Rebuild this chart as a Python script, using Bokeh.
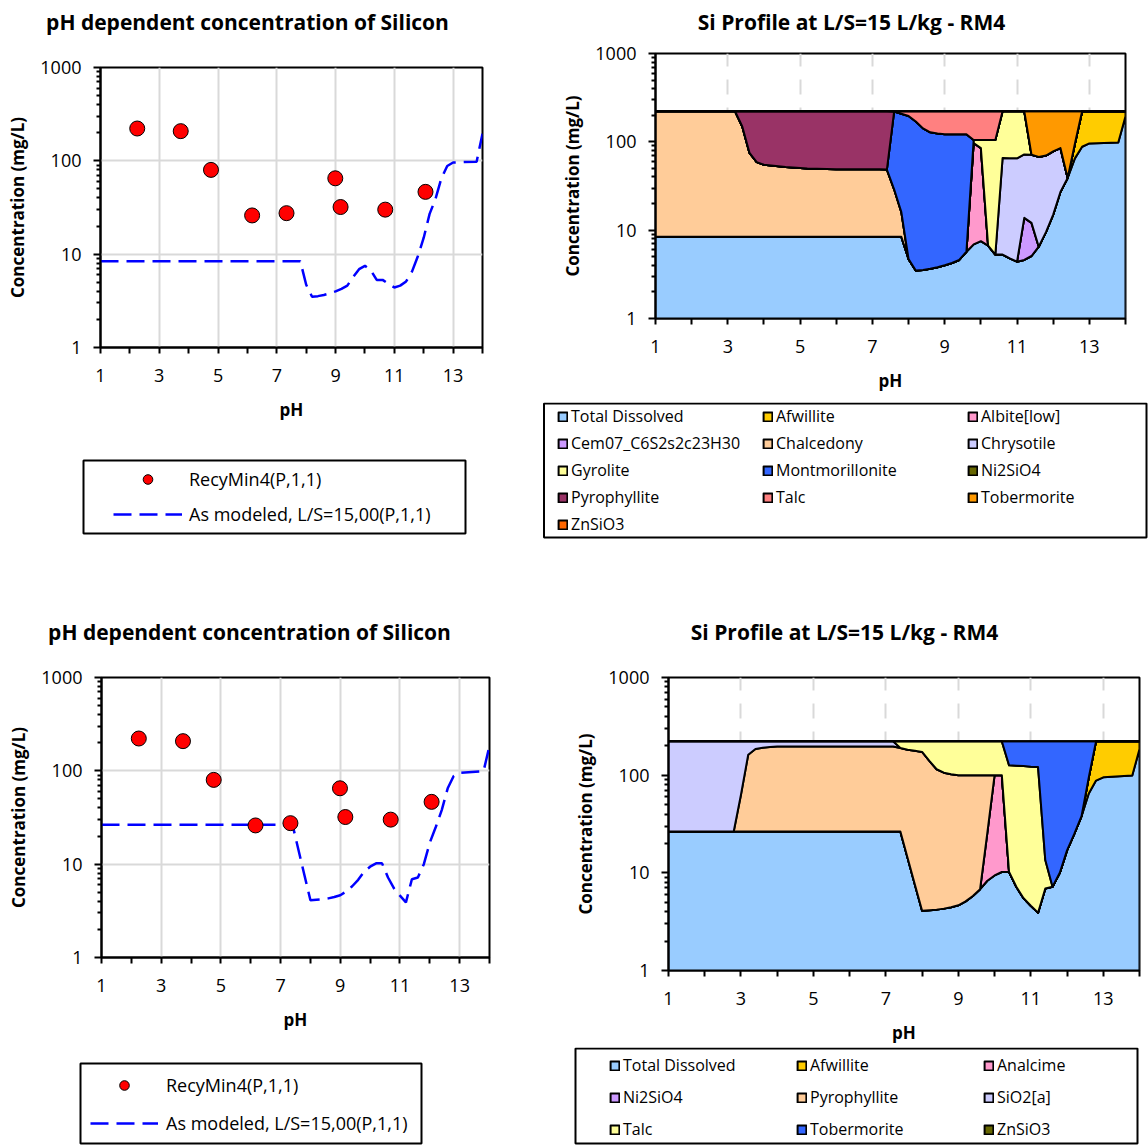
import numpy as np
from bokeh.plotting import figure
from bokeh.layouts import column, row
from bokeh.models import (Range1d, FixedTicker, PrintfTickFormatter, Legend,
                          LegendItem, BoxAnnotation, Label)
from bokeh.embed import file_html
from bokeh.resources import INLINE

FONT = "Open Sans"

# ---------------- data ----------------
ph_measured = [2.25, 3.73, 4.76, 6.16, 7.33, 8.99, 9.17, 10.69, 12.06]
si_measured = [222, 208, 80, 26, 27.5, 65, 32, 30, 46.5]

ph_model = [1.0, 2.8, 3.0, 3.2, 3.4, 3.6, 3.8, 4.0, 4.6, 5.2, 6.0, 7.2, 7.4, 7.6,
            7.8, 8.0, 8.2, 8.4, 8.6, 8.8, 9.0, 9.2, 9.4, 9.6, 9.8, 10.0, 10.2,
            10.4, 10.6, 10.8, 11.0, 11.2, 11.4, 11.6, 11.8, 12.0, 12.2, 12.4,
            12.6, 12.8, 13.0, 13.8, 14.0]

td_1 = [8.4, 8.4, 8.4, 8.4, 8.4, 8.4, 8.4, 8.4, 8.4, 8.4, 8.4, 8.4, 8.4, 8.4, 8.4,
        4.7, 3.5, 3.55, 3.65, 3.8, 4.0, 4.25, 4.6, 5.7, 6.9, 7.5, 6.7, 5.3, 5.3, 4.8,
        4.4, 4.6, 5.1, 6.5, 9.5, 15, 27, 39, 65, 88, 96, 98, 195]
afwillite_1 = [0, 0, 0, 0, 0, 0, 0, 0, 0, 0, 0, 0, 0, 0, 0, 0, 0, 0, 0, 0, 0, 0,
               0, 0, 0, 0, 0, 0, 0, 0, 0, 0, 0, 0, 0, 0, 0, 0, 30, 134, 126, 124, 27]
albite_1 = [0, 0, 0, 0, 0, 0, 0, 0, 0, 0, 0, 0, 0, 0, 0, 0, 0, 0, 0, 0, 0, 0,
            0, 0, 90, 77.5, 0, 0, 0, 0, 0, 0, 0, 0, 0, 0, 0, 0, 0, 0, 0, 0, 0]
cem07_1 = [0, 0, 0, 0, 0, 0, 0, 0, 0, 0, 0, 0, 0, 0, 0, 0, 0, 0, 0, 0, 0, 0,
           0, 0, 0, 0, 0, 0, 0, 0, 0, 9.2, 7, 0, 0, 0, 0, 0, 0, 0, 0, 0, 0]
chalcedony_1 = [213.6, 213.6, 213.6, 213.6, 140.6, 66.6, 50.6, 46.6, 43.6, 41.6,
                40.6, 40.6, 40.1, 20.6, 7.6, 0, 0, 0, 0, 0, 0, 0, 0, 0, 0, 0, 0,
                0, 0, 0, 0, 0, 0, 0, 0, 0, 0, 0, 0, 0, 0, 0, 0]
chrysotile_1 = [0, 0, 0, 0, 0, 0, 0, 0, 0, 0, 0, 0, 0, 0, 0, 0, 0, 0, 0, 0, 0, 0,
                0, 0, 0, 0, 0, 0, 60.2, 60.2, 60.6, 58.2, 59.4, 61, 60.5, 63, 58,
                0, 0, 0, 0, 0, 0]
gyrolite_1 = [0, 0, 0, 0, 0, 0, 0, 0, 0, 0, 0, 0, 0, 0, 0, 0, 0, 0, 0, 0, 0, 0,
              0, 0, 8, 20, 98.3, 99.7, 156.5, 157, 157, 150, 0, 0, 0, 0, 0, 0, 0,
              0, 0, 0, 0]
montmorillonite_1 = [0, 0, 0, 0, 0, 0, 0, 0, 0, 0, 0, 0, 0, 191, 192, 191.3, 166.5,
                     138.5, 124.4, 120.2, 118, 117.8, 117.4, 116.3, 0, 0, 0, 0, 0,
                     0, 0, 0, 0, 0, 0, 0, 0, 0, 0, 0, 0, 0, 0]
ni2sio4_1 = [0, 0, 0, 0, 0, 0, 0, 0, 0, 0, 0, 0, 0, 0, 0, 0, 0, 0, 0, 0, 0, 0,
             0, 0, 0, 0, 0, 0, 0, 0, 0, 0, 0, 0, 0, 0, 0, 0, 0, 0, 0, 0, 0]
pyrophyllite_1 = [0, 0, 0, 0, 73, 147, 163, 167, 170, 172, 173, 173, 173.5, 0, 0,
                  0, 0, 0, 0, 0, 0, 0, 0, 0, 0, 0, 0, 0, 0, 0, 0, 0, 0, 0, 0, 0,
                  0, 0, 0, 0, 0, 0, 0]
talc_1 = [0, 0, 0, 0, 0, 0, 0, 0, 0, 0, 0, 0, 0, 2, 14, 26, 52, 80, 94, 98, 100,
          100, 100, 100, 117, 117, 117, 117, 0, 0, 0, 0, 0, 0, 0, 0, 0, 0, 0, 0,
          0, 0, 0]
tobermorite_1 = [0, 0, 0, 0, 0, 0, 0, 0, 0, 0, 0, 0, 0, 0, 0, 0, 0, 0, 0, 0, 0, 0,
                 0, 0, 0, 0, 0, 0, 0, 0, 0, 0, 150.5, 154.5, 152, 144, 137, 183,
                 127, 0, 0, 0, 0]
znsio3_1 = [0, 0, 0, 0, 0, 0, 0, 0, 0, 0, 0, 0, 0, 0, 0, 0, 0, 0, 0, 0, 0, 0,
            0, 0, 0, 0, 0, 0, 0, 0, 0, 0, 0, 0, 0, 0, 0, 0, 0, 0, 0, 0, 0]

names_1 = ["Total Dissolved", "Afwillite", "Albite[low]", "Cem07_C6S2s2c23H30",
           "Chalcedony", "Chrysotile", "Gyrolite", "Montmorillonite", "Ni2SiO4",
           "Pyrophyllite", "Talc", "Tobermorite", "ZnSiO3"]
colors_1 = ["#99CCFF", "#FFCC00", "#FF99CC", "#CC99FF", "#FFCC99", "#CCCCFF",
            "#FFFF99", "#3366FF", "#666600", "#993366", "#FF8080", "#FF9900",
            "#FF6600"]
series_1 = [td_1, afwillite_1, albite_1, cem07_1, chalcedony_1, chrysotile_1,
            gyrolite_1, montmorillonite_1, ni2sio4_1, pyrophyllite_1, talc_1,
            tobermorite_1, znsio3_1]

td_2 = [26.5, 26.5, 26.5, 26.5, 26.5, 26.5, 26.5, 26.5, 26.5, 26.5, 26.5, 26.5, 26.5,
        14.2, 7.6, 4.1, 4.15, 4.2, 4.3, 4.45, 4.65, 5.1, 5.8, 6.8, 8.3, 9.4, 10.2,
        10.2, 7.2, 5.5, 4.6, 3.9, 6.9, 7.2, 10, 17, 25, 38, 65, 88, 95, 99, 185]
afwillite_2 = [0, 0, 0, 0, 0, 0, 0, 0, 0, 0, 0, 0, 0, 0, 0, 0, 0, 0, 0, 0, 0, 0,
               0, 0, 0, 0, 0, 0, 0, 0, 0, 0, 0, 0, 0, 0, 0, 0, 30, 134, 127, 123, 37]
analcime_2 = [0, 0, 0, 0, 0, 0, 0, 0, 0, 0, 0, 0, 0, 0, 0, 0, 0, 0, 0, 0, 0, 0,
              0, 0, 17.3, 90.6, 89.8, 0, 0, 0, 0, 0, 0, 0, 0, 0, 0, 0, 0, 0, 0, 0, 0]
ni2sio4_2 = [0, 0, 0, 0, 0, 0, 0, 0, 0, 0, 0, 0, 0, 0, 0, 0, 0, 0, 0, 0, 0, 0,
             0, 0, 0, 0, 0, 0, 0, 0, 0, 0, 0, 0, 0, 0, 0, 0, 0, 0, 0, 0, 0]
pyrophyllite_2 = [0, 0, 36.5, 135.5, 158.5, 164.5, 167.5, 169.5, 170.5, 170.5,
                  170.5, 170.5, 163.5, 167.8, 170.4, 168.9, 135.9, 110.8, 101.7,
                  97.6, 95.4, 94.9, 94.2, 93.2, 74.4, 0, 0, 0, 0, 0, 0, 0, 0, 0,
                  0, 0, 0, 0, 0, 0, 0, 0, 0]
sio2a_2 = [195.5, 195.5, 159, 60, 37, 31, 28, 26, 25, 25, 25, 25, 0, 0, 0, 0, 0,
           0, 0, 0, 0, 0, 0, 0, 0, 0, 0, 0, 0, 0, 0, 0, 0, 0, 0, 0, 0, 0, 0, 0,
           0, 0, 0]
talc_2 = [0, 0, 0, 0, 0, 0, 0, 0, 0, 0, 0, 0, 32, 40, 44, 49, 82, 107, 116, 120,
          122, 122, 122, 122, 122, 122, 122, 115.8, 117.8, 118.5, 117.4, 117.1,
          6.6, 0, 0, 0, 0, 0, 0, 0, 0, 0, 0]
tobermorite_2 = [0, 0, 0, 0, 0, 0, 0, 0, 0, 0, 0, 0, 0, 0, 0, 0, 0, 0, 0, 0, 0, 0,
                 0, 0, 0, 0, 0, 96, 97, 98, 100, 101, 208.5, 214.8, 212, 205, 197,
                 184, 127, 0, 0, 0, 0]
znsio3_2 = [0, 0, 0, 0, 0, 0, 0, 0, 0, 0, 0, 0, 0, 0, 0, 0, 0, 0, 0, 0, 0, 0,
            0, 0, 0, 0, 0, 0, 0, 0, 0, 0, 0, 0, 0, 0, 0, 0, 0, 0, 0, 0, 0]

names_2 = ["Total Dissolved", "Afwillite", "Analcime", "Ni2SiO4", "Pyrophyllite",
           "SiO2[a]", "Talc", "Tobermorite", "ZnSiO3"]
colors_2 = ["#99CCFF", "#FFCC00", "#FF99CC", "#CC99FF", "#FFCC99", "#CCCCFF",
            "#FFFF99", "#3366FF", "#666600"]
series_2 = [td_2, afwillite_2, analcime_2, ni2sio4_2, pyrophyllite_2, sio2a_2,
            talc_2, tobermorite_2, znsio3_2]

x_major = [1, 3, 5, 7, 9, 11, 13]
x_minor = [2, 4, 6, 8, 10, 12, 14]
y_major = [1, 10, 100, 1000]
y_minor = [2, 3, 4, 5, 6, 7, 8, 9, 20, 30, 40, 50, 60, 70, 80, 90,
           200, 300, 400, 500, 600, 700, 800, 900]

title_left = "pH dependent concentration of Silicon"
title_right = "Si Profile at L/S=15 L/kg - RM4"
x_label = "pH"
y_label = "Concentration (mg/L)"
legend_measured = "RecyMin4(P,1,1)"
legend_model = "As modeled, L/S=15,00(P,1,1)"

FLOOR = 0.1
HEADER_H = 38


def blank_fig(width, height):
    """A figure whose frame fills the whole canvas, 1 data unit = 1 pixel."""
    p = figure(width=width, height=height, output_backend="svg", toolbar_location=None,
               x_range=Range1d(0, width), y_range=Range1d(height, 0),
               x_axis_location=None, y_axis_location=None, frame_align=False,
               min_border_left=0, min_border_right=0, min_border_top=0,
               min_border_bottom=0)
    p.grid.visible = False
    p.outline_line_color = None
    return p


def header(width, text, cx):
    p = blank_fig(width, HEADER_H)
    p.add_layout(Label(x=cx, y=21, text=text, text_font=FONT, text_font_size="21px",
                       text_font_style="bold", text_color="black",
                       text_align="center", text_baseline="middle"))
    return p


def chart_fig(width, height, left, right, top, bottom):
    p = figure(width=width, height=height, output_backend="svg", toolbar_location=None,
               x_range=Range1d(1, 14), y_range=Range1d(1, 1000), y_axis_type="log",
               min_border_left=left, min_border_right=right, min_border_top=top,
               min_border_bottom=bottom, frame_align=False)
    p.outline_line_color = "black"
    p.outline_line_width = 2
    p.outline_line_alpha = 1
    xa = p.xaxis[0]
    ya = p.yaxis[0]
    xa.ticker = FixedTicker(ticks=x_major, minor_ticks=x_minor)
    ya.ticker = FixedTicker(ticks=y_major, minor_ticks=y_minor)
    ya.formatter = PrintfTickFormatter(format="%d")
    for ax in (xa, ya):
        ax.axis_line_color = "black"
        ax.axis_line_width = 2
        ax.major_tick_line_color = "black"
        ax.major_tick_line_width = 2
        ax.minor_tick_line_color = "black"
        ax.minor_tick_line_width = 2
        ax.major_tick_in = 0
        ax.minor_tick_in = 0
        ax.major_label_text_font = FONT
        ax.major_label_text_font_size = "18px"
        ax.major_label_text_color = "black"
        ax.axis_label_text_font = FONT
        ax.axis_label_text_font_size = "17px"
        ax.axis_label_text_font_style = "bold"
        ax.axis_label_text_color = "black"
    xa.major_tick_out = 6
    xa.minor_tick_out = 6
    ya.major_tick_out = 7
    ya.minor_tick_out = 4
    xa.major_label_standoff = 15
    ya.major_label_standoff = 12
    xa.axis_label_standoff = 13
    ya.axis_label_standoff = 8
    xa.axis_label = x_label
    ya.axis_label = y_label
    return p


def scatter_column(width, chart_h, legend_h, left, right, top, bottom, title_cx,
                   model, leg_x, leg_vy, glyph_w, standoff, spacing, box):
    head = header(width, title_left, title_cx)
    p = chart_fig(width, chart_h, left, right, top, bottom)
    p.xgrid.ticker = FixedTicker(ticks=x_major)
    p.ygrid.ticker = FixedTicker(ticks=y_major)
    p.xgrid.grid_line_color = "#D9D9D9"
    p.ygrid.grid_line_color = "#D9D9D9"
    p.xgrid.grid_line_width = 2
    p.ygrid.grid_line_width = 2
    line_style = dict(line_color="#0000FF", line_width=2.5, line_dash="18 8")
    dot_style = dict(size=15, fill_color="#FF0000", line_color="black", line_width=1)
    p.line(ph_model, model, **line_style)
    p.scatter(ph_measured, si_measured, **dot_style)

    lg = blank_fig(width, legend_h)
    # legend keys: same series, hidden here, only used to draw the legend symbols
    k_dot = lg.scatter(ph_measured, si_measured, visible=False, **dot_style)
    k_line = lg.line(ph_model, model, visible=False, **line_style)
    leg = Legend(items=[LegendItem(label=legend_measured, renderers=[k_dot]),
                        LegendItem(label=legend_model, renderers=[k_line])],
                 location=(leg_x, leg_vy), orientation="vertical",
                 glyph_width=glyph_w, glyph_height=24, label_standoff=standoff,
                 spacing=spacing, padding=0, margin=0, border_line_alpha=0,
                 background_fill_alpha=0, inactive_fill_alpha=0,
                 label_text_font=FONT, label_text_font_size="18px",
                 label_text_color="black")
    lg.add_layout(leg, "center")
    lg.add_layout(BoxAnnotation(left=box[0], top=box[1], right=box[2], bottom=box[3],
                                fill_alpha=0, line_color="black", line_width=2,
                                line_alpha=1))
    return column(head, p, lg)


def stack_column(width, chart_h, legend_h, left, right, top, bottom, title_cx,
                 series, names, colors, leg_x, leg_vy, label_w, standoff, spacing,
                 box):
    head = header(width, title_right, title_cx)
    p = chart_fig(width, chart_h, left, right, top, bottom)
    p.ygrid.visible = False
    p.xgrid.ticker = FixedTicker(ticks=x_major)
    p.xgrid.grid_line_color = "#D9D9D9"
    p.xgrid.grid_line_width = 2
    p.xgrid.grid_line_dash = "15 13"
    lg = blank_fig(width, legend_h)
    x = np.array(ph_model, dtype=float)
    base = np.zeros(len(x))
    items = []
    for k, (vals, name, col) in enumerate(zip(series, names, colors)):
        top_ = base + np.array(vals, dtype=float)
        low = np.full(len(x), FLOOR) if k == 0 else base
        xs = np.concatenate([x, x[::-1]])
        ys = np.concatenate([top_, low[::-1]])
        style = dict(fill_color=col, line_color="black", line_width=2,
                     line_join="round")
        p.patch(xs, ys, **style)
        key = lg.patch(xs, ys, visible=False, **style)
        items.append(LegendItem(label=name, renderers=[key]))
        base = top_
    leg = Legend(items=items, location=(leg_x, leg_vy), orientation="horizontal",
                 ncols=3, glyph_width=11, glyph_height=11, label_standoff=standoff,
                 label_width=label_w, spacing=spacing, padding=0, margin=0,
                 border_line_alpha=0, background_fill_alpha=0,
                 inactive_fill_alpha=0,
                 label_text_font=FONT, label_text_font_size="16px",
                 label_text_color="black")
    lg.add_layout(leg, "center")
    lg.add_layout(BoxAnnotation(left=box[0], top=box[1], right=box[2], bottom=box[3],
                                fill_alpha=0, line_color="black", line_width=2,
                                line_alpha=1))
    return column(head, p, lg)


# top-left  : canvas rows 0-38 header, 38-445 chart, 445-610 legend
c_tl = scatter_column(540, 407, 165, 100, 58, 29, 98, 247, td_1,
                      113, 84, 69, 7, 11, (83, 15, 465, 88))
# top-right : 0-38 header, 38-402 chart, 402-610 legend
c_tr = stack_column(608, 364, 208, 115, 23, 15, 84, 311, series_1, names_1, colors_1,
                    17, 75, 186, 3, 5, (3.5, 1, 606, 135))
# bottom-left : 610-648 header, 648-1050 chart, 1050-1145 legend
c_bl = scatter_column(540, 402, 95, 101, 51, 29, 93, 249, td_2,
                      90, 10, 68, 8, 14, (80, 13, 421, 93))
# bottom-right: 610-648 header, 648-1047 chart, 1047-1145 legend
c_br = stack_column(608, 399, 98, 128, 9, 29, 77, 304, series_2, names_2, colors_2,
                    69, 5, 163, 3, 10, (35, 1, 597, 96))

layout = column(row(c_tl, c_tr), row(c_bl, c_br))
open("out.html", "w").write(file_html(layout, INLINE))
